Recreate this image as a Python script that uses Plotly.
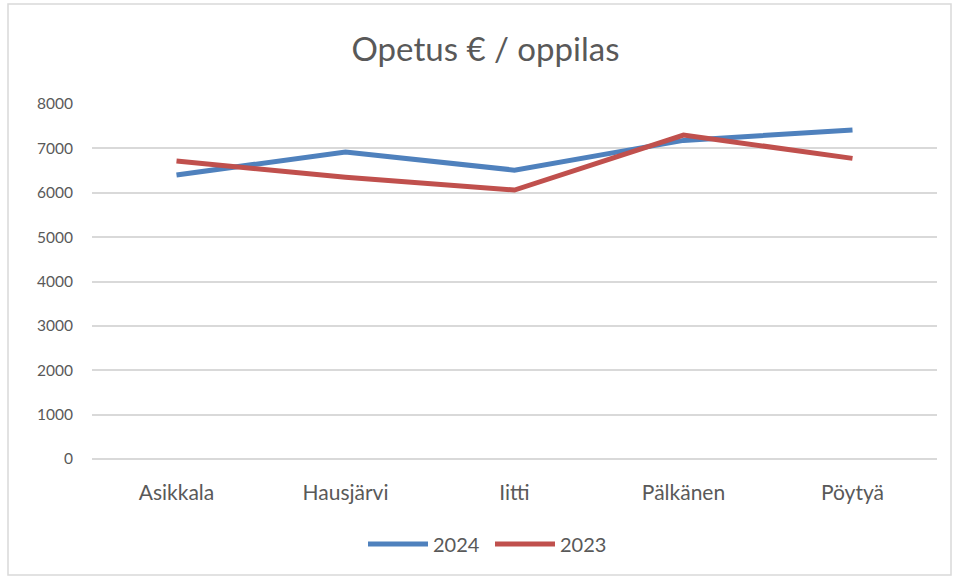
import plotly.graph_objects as go

# Municipalities and teaching cost per pupil (€)
municipalities = ["Asikkala", "Hausjärvi", "Iitti", "Pälkänen", "Pöytyä"]
cost_2024 = [6400, 6920, 6510, 7180, 7415]
cost_2023 = [6715, 6350, 6060, 7300, 6775]
y_ticks = [0, 1000, 2000, 3000, 4000, 5000, 6000, 7000, 8000]

W, H = 955, 578
ML, MR, MT, MB = 92, 18, 104, 119
PW, PH = W - ML - MR, H - MT - MB

font_family = "Lato, 'Open Sans', sans-serif"
text_grey = "#595959"

fig = go.Figure()
fig.add_trace(go.Scatter(
    x=municipalities, y=cost_2024, name="2024", mode="lines",
    line=dict(color="#4F81BD", width=5),
))
fig.add_trace(go.Scatter(
    x=municipalities, y=cost_2023, name="2023", mode="lines",
    line=dict(color="#C0504D", width=5),
))

def px_to_paper_x(px):
    return (px - ML) / PW

def px_to_paper_y(py):
    return (H - MB - py) / PH

fig.update_layout(
    width=W, height=H,
    margin=dict(l=ML, r=MR, t=MT, b=MB, autoexpand=False),
    paper_bgcolor="white", plot_bgcolor="white",
    font=dict(family=font_family, color=text_grey, size=17),
    title=dict(
        text="Opetus € / oppilas",
        x=485.5 / W, xanchor="center", xref="container",
        y=1 - 49 / H, yanchor="middle",
        font=dict(size=33, color=text_grey, family=font_family),
    ),
    xaxis=dict(
        showgrid=False, zeroline=False,
        showline=False, ticks="", ticklabelstandoff=19,
        tickfont=dict(size=21, color=text_grey),
        tickangle=0, automargin=False,
        range=[-0.5, 4.5],
    ),
    yaxis=dict(
        range=[0, 8000], tickvals=y_ticks,
        showgrid=True, gridcolor="#D9D9D9", gridwidth=2,
        zeroline=True, zerolinecolor="#D9D9D9", zerolinewidth=2,
        showline=False, ticks="", ticklabelstandoff=18,
        tickfont=dict(size=15.5, color=text_grey), automargin=False,
    ),
    legend=dict(
        orientation="h", x=px_to_paper_x(490), xanchor="center",
        y=px_to_paper_y(544), yanchor="middle",
        font=dict(size=20, color=text_grey),
        itemwidth=60, entrywidth=52, entrywidthmode="pixels",
    ),
    hovermode=False,
    shapes=[dict(
        type="rect", xref="paper", yref="paper",
        x0=px_to_paper_x(8), x1=px_to_paper_x(951),
        y0=px_to_paper_y(575), y1=px_to_paper_y(4),
        line=dict(color="#D9D9D9", width=1.5), fillcolor="rgba(0,0,0,0)",
        layer="below",
    )],
)

fig.write_html("out.html")
